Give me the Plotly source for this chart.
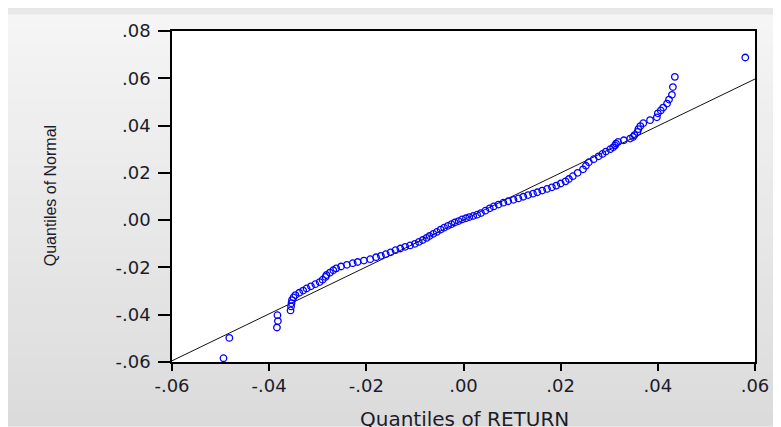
import plotly.graph_objects as go

# Quantiles of RETURN (x) vs Quantiles of Normal (y)
ret_q = [
    -0.0494, -0.0482, -0.0384, -0.0382, -0.0383, -0.0356, -0.0355, -0.0354, -0.0353, -0.0350,
    -0.0346, -0.0338, -0.0330, -0.0323, -0.0314, -0.0305, -0.0296, -0.0290, -0.0284, -0.0282,
    -0.0275, -0.0268, -0.0262, -0.0252, -0.0240, -0.0228, -0.0218, -0.0205, -0.0192, -0.0180,
    -0.0170, -0.0160, -0.0150, -0.0140, -0.0130, -0.0120, -0.0110, -0.0100, -0.0092, -0.0084,
    -0.0076, -0.0070, -0.0062, -0.0055, -0.0047, -0.0040, -0.0032, -0.0025, -0.0018, -0.0010,
    -0.0003, 0.0005, 0.0012, 0.0020, 0.0028, 0.0036, 0.0045, 0.0054, 0.0062, 0.0072,
    0.0082, 0.0092, 0.0103, 0.0113, 0.0123, 0.0133, 0.0143, 0.0152, 0.0162, 0.0172,
    0.0182, 0.0191, 0.0200, 0.0210, 0.0217, 0.0225, 0.0235, 0.0246, 0.0252, 0.0258,
    0.0268, 0.0278, 0.0286, 0.0293, 0.0302, 0.0308, 0.0312, 0.0314, 0.0318, 0.0330,
    0.0343, 0.0349, 0.0352, 0.0358, 0.0360, 0.0364, 0.0370, 0.0384, 0.0398, 0.0400,
    0.0406, 0.0411, 0.0419, 0.0423, 0.0429, 0.0431, 0.0435, 0.0580,
]
normal_q = [
    -0.0584, -0.0498, -0.0454, -0.0427, -0.0402, -0.0382, -0.0365, -0.0351, -0.0338, -0.0327,
    -0.0317, -0.0307, -0.0298, -0.0289, -0.0280, -0.0271, -0.0262, -0.0252, -0.0240, -0.0232,
    -0.0222, -0.0212, -0.0204, -0.0196, -0.0189, -0.0182, -0.0177, -0.0171, -0.0165, -0.0157,
    -0.0151, -0.0144, -0.0136, -0.0127, -0.0120, -0.0113, -0.0107, -0.0100, -0.0092, -0.0084,
    -0.0075, -0.0067, -0.0058, -0.0050, -0.0040, -0.0032, -0.0024, -0.0017, -0.0010, -0.0004,
    0.0003, 0.0008, 0.0013, 0.0018, 0.0023, 0.0030, 0.0040, 0.0050, 0.0058, 0.0066,
    0.0074, 0.0080, 0.0086, 0.0092, 0.0099, 0.0106, 0.0112, 0.0118, 0.0125, 0.0132,
    0.0139, 0.0146, 0.0155, 0.0164, 0.0174, 0.0186, 0.0200, 0.0215, 0.0230, 0.0245,
    0.0258, 0.0270, 0.0280, 0.0290, 0.0300, 0.0308, 0.0316, 0.0324, 0.0331, 0.0338,
    0.0345, 0.0352, 0.0360, 0.0373, 0.0385, 0.0398, 0.0410, 0.0423, 0.0435, 0.0452,
    0.0464, 0.0476, 0.0493, 0.0510, 0.0530, 0.0563, 0.0606, 0.0688,
]

# Reference line endpoints
line_x = [-0.06, 0.06]
line_y = [-0.0595, 0.0597]

x_tickvals = [-0.06, -0.04, -0.02, 0.0, 0.02, 0.04, 0.06]
x_ticktext = ["-.06", "-.04", "-.02", ".00", ".02", ".04", ".06"]
y_tickvals = [-0.06, -0.04, -0.02, 0.0, 0.02, 0.04, 0.06, 0.08]
y_ticktext = ["-.06", "-.04", "-.02", ".00", ".02", ".04", ".06", ".08"]

TICK_FONT = "DejaVu Sans, Verdana, sans-serif"
TITLE_FONT = "Liberation Sans, Arial, sans-serif"
TXT = "#1c1c2a"

fig = go.Figure()
fig.add_trace(go.Scatter(
    x=line_x, y=line_y, mode="lines",
    line=dict(color="#111111", width=1), hoverinfo="skip", showlegend=False,
))
fig.add_trace(go.Scatter(
    x=ret_q, y=normal_q, mode="markers",
    marker=dict(symbol="circle-open", size=6.5, color="#0000ff", line=dict(width=1.3, color="#0000ff")),
    showlegend=False,
))

# Figure sits at (8, 8) in the page (default body margin)
W, H = 773, 419
L, R, T, B = 164, 20, 15, 65
pw, ph = W - L - R, H - T - B
def fx(px):
    return (px - L) / pw
def fy(py):
    return (H - B - py) / ph

# Soft vertical gradient behind everything (stepped strips)
shapes = []
n = 30
for i in range(n):
    y0p = H * i / n
    y1p = H * (i + 1) / n
    g = int(round(245 - (245 - 219) * (i + 0.5) / n))
    shapes.append(dict(
        type="rect", xref="paper", yref="paper", layer="below",
        x0=fx(-2), x1=fx(W + 2),
        y0=fy(y1p + 0.6), y1=fy(y0p - (2 if i == 0 else 0)),
        fillcolor=f"rgb({g},{g},{g})", line=dict(width=0),
    ))
shapes.append(dict(
    type="rect", xref="paper", yref="paper", layer="below",
    x0=0, x1=1, y0=0, y1=1, fillcolor="white", line=dict(width=0),
))

fig.update_layout(
    width=W, height=H,
    margin=dict(l=L, r=R, t=T, b=B, pad=0),
    paper_bgcolor="rgb(232,232,232)", plot_bgcolor="white",
    shapes=shapes,
    font=dict(family=TICK_FONT, size=18, color=TXT),
    xaxis=dict(
        range=[-0.06, 0.06], tickvals=x_tickvals, ticktext=x_ticktext,
        showgrid=False, zeroline=False, showline=True, mirror=True,
        linecolor="black", linewidth=1.5, ticks="outside", ticklen=7,
        tickcolor="black", tickwidth=1.5, tickfont=dict(size=18, family=TICK_FONT, color=TXT),
    ),
    yaxis=dict(
        range=[-0.06, 0.08], tickvals=y_tickvals, ticktext=y_ticktext,
        showgrid=False, zeroline=False, showline=True, mirror=True,
        linecolor="black", linewidth=1.5, ticks="outside", ticklen=12,
        tickcolor="black", tickwidth=1.5, ticklabelstandoff=4,
        tickfont=dict(size=18, family=TICK_FONT, color=TXT),
    ),
    annotations=[
        dict(text="Quantiles of RETURN", xref="paper", yref="paper",
             x=fx(460), y=fy(412), xanchor="center", yanchor="middle",
             showarrow=False, font=dict(size=20, family=TICK_FONT, color=TXT)),
        dict(text="Quantiles of Normal", xref="paper", yref="paper",
             x=fx(41), y=fy(184), xanchor="center", yanchor="middle",
             textangle=-90, showarrow=False, font=dict(size=16, family=TITLE_FONT, color=TXT)),
    ],
)

fig.write_html("out.html")
